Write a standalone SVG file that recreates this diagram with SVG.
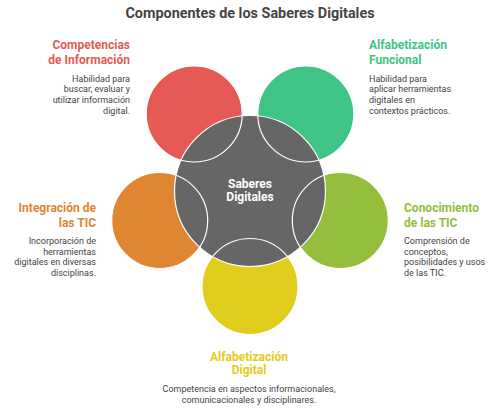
<svg xmlns="http://www.w3.org/2000/svg" width="500" height="411" viewBox="0 0 500 411">
<style>
.t{font-family:Roboto,"Liberation Sans",sans-serif}
.title{font-size:14.4px;font-weight:bold;fill:#444444}
.h{font-size:12px;font-weight:bold}
.d{font-size:9px;fill:#444444}
.c{font-size:12px;font-weight:bold;fill:#ffffff}
.ring{fill:none;stroke:#ffffff;stroke-width:1.2}
</style>
<rect width="500" height="411" fill="#ffffff"/>
<text class="t title" x="250" y="18" text-anchor="middle">Componentes de los Saberes Digitales</text>
<g id="circles-fill">
<circle cx="194.2" cy="114" r="48" fill="#E55A54"/>
<circle cx="305.8" cy="114" r="48" fill="#3EC586"/>
<circle cx="159.7" cy="220.5" r="48" fill="#E08532"/>
<circle cx="340.3" cy="220.5" r="48" fill="#94BE3C"/>
<circle cx="250" cy="286.5" r="48" fill="#E1CD1B"/>
</g>
<g id="center">
<circle cx="250" cy="191" r="75.5" fill="#666666" stroke="#ffffff" stroke-width="1.2"/>
<g id="rings">
<circle class="ring" cx="194.2" cy="114" r="48"/>
<circle class="ring" cx="305.8" cy="114" r="48"/>
<circle class="ring" cx="159.7" cy="220.5" r="48"/>
<circle class="ring" cx="340.3" cy="220.5" r="48"/>
<circle class="ring" cx="250" cy="286.5" r="48"/>
</g>
<text class="t c" x="250" y="188" text-anchor="middle">Saberes</text>
<text class="t c" x="250" y="201" text-anchor="middle">Digitales</text>
</g>
<g id="competencias" class="t" text-anchor="end">
<text class="h" fill="#E55A54" x="130" y="49">Competencias</text>
<text class="h" fill="#E55A54" x="130" y="63.5">de Información</text>
<text class="d" x="130" y="81.5">Habilidad para</text>
<text class="d" x="130" y="92.3">buscar, evaluar y</text>
<text class="d" x="130" y="103">utilizar información</text>
<text class="d" x="130" y="113.7">digital.</text>
</g>
<g id="funcional" class="t">
<text class="h" fill="#3EC586" x="369" y="49">Alfabetización</text>
<text class="h" fill="#3EC586" x="369" y="63.5">Funcional</text>
<text class="d" x="369" y="81.5">Habilidad para</text>
<text class="d" x="369" y="92.3">aplicar herramientas</text>
<text class="d" x="369" y="103">digitales en</text>
<text class="d" x="369" y="113.7">contextos prácticos.</text>
</g>
<g id="integracion" class="t" text-anchor="end">
<text class="h" fill="#E08532" x="96" y="212.3">Integración de</text>
<text class="h" fill="#E08532" x="96" y="226.5">las TIC</text>
<text class="d" x="96" y="244">Incorporación de</text>
<text class="d" x="96" y="254.6">herramientas</text>
<text class="d" x="96" y="265.2">digitales en diversas</text>
<text class="d" x="96" y="275.8">disciplinas.</text>
</g>
<g id="conocimiento" class="t">
<text class="h" fill="#94BE3C" x="404" y="212.3">Conocimiento</text>
<text class="h" fill="#94BE3C" x="404" y="226.5">de las TIC</text>
<text class="d" x="404" y="244">Comprensión de</text>
<text class="d" x="404" y="254.6">conceptos,</text>
<text class="d" x="404" y="265.2">posibilidades y usos</text>
<text class="d" x="404" y="275.8">de las TIC.</text>
</g>
<g id="digital" class="t" text-anchor="middle">
<text class="h" fill="#E1CD1B" x="249" y="360.5">Alfabetización</text>
<text class="h" fill="#E1CD1B" x="249" y="374">Digital</text>
<text class="d" x="249" y="392.3">Competencia en aspectos informacionales,</text>
<text class="d" x="249" y="402.8">comunicacionales y disciplinares.</text>
</g>
</svg>
